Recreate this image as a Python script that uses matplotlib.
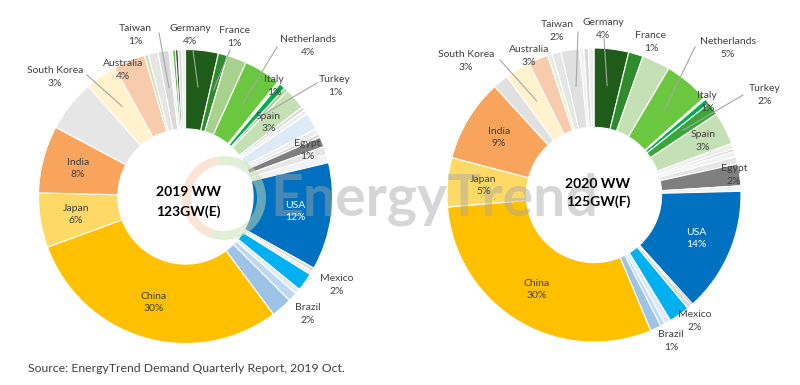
import numpy as np
import matplotlib.pyplot as plt
from matplotlib.patches import Wedge

# slices clockwise from 12 o'clock, share in %  (unnamed = small markets)
names_2019 = ['Germany', 'France', '', 'Netherlands', '', 'Italy', 'Turkey', 'Spain',
              '', '', '', '', '', 'Egypt', '', '', 'USA', '', '', 'Mexico', '', '', 'Brazil',
              'China', 'Japan', 'India', '', 'South Korea', 'Australia', '', '', 'Taiwan',
              '', '', '', '', '']
share_2019 = [3.6, 1.0, 2.15, 4.05, 0.3, 0.7, 0.4, 2.4,
              0.4, 0.5, 1.9, 0.6, 0.4, 1.1, 0.9, 0.9, 11.8, 0.4, 0.4, 2.0, 0.6, 1.0, 2.3,
              29.6, 6.0, 7.4, 5.7, 3.5, 3.5, 0.4, 1.1, 1.2,
              0.4, 0.3, 0.3, 0.4, 0.4]
colors_2019 = ['#1F5C1A', '#2E8B2E', '#A9D18E', '#6AC73F', '#E2F0D9', '#00B050', '#A9D18E', '#C5E0B4',
               '#D9D9D9', '#EDEDED', '#DDEBF7', '#EDEDED', '#D9D9D9', '#7F7F7F', '#E7E6E6', '#F2F2F2',
               '#0070C0', '#D9D9D9', '#EDEDED', '#00B0F0', '#DDEBF7', '#BDD7EE', '#9DC3E6',
               '#FFC000', '#FFD966', '#F8A45C', '#E7E6E6', '#FFF2CC', '#F8CBAD', '#C5E0B4', '#E7E6E6',
               '#D9D9D9', '#F2F2F2', '#4CB83A', '#404040', '#D9D9D9', '#EDEDED']

names_2020 = ['Germany', 'France', '', 'Netherlands', '', 'Italy', 'Turkey', 'Spain',
              '', '', '', '', 'Egypt', '', 'USA', '', '', 'Mexico', '', '', 'Brazil',
              'China', 'Japan', 'India', '', 'South Korea', 'Australia', '', '', 'Taiwan',
              '', '', '']
share_2020 = [3.8, 1.6, 3.1, 5.0, 0.2, 0.6, 1.4, 3.6,
              0.6, 0.3, 0.6, 0.8, 2.4, 0.6, 13.7, 0.2, 0.5, 2.3, 0.7, 0.5, 1.2,
              30.0, 5.4, 9.1, 1.7, 2.8, 2.2, 0.5, 1.0, 2.0,
              0.5, 0.5, 0.6]
colors_2020 = ['#1F5C1A', '#2E8B2E', '#C5E0B4', '#6AC73F', '#E2F0D9', '#00B050', '#3DA63A', '#C5E0B4',
               '#EDEDED', '#D9D9D9', '#F2F2F2', '#E7E6E6', '#7F7F7F', '#F2F2F2', '#0070C0', '#7F7F7F',
               '#D9D9D9', '#00B0F0', '#DDEBF7', '#BDD7EE', '#9DC3E6',
               '#FFC000', '#FFD966', '#F8A45C', '#E0E0E0', '#FFF2CC', '#F8CBAD', '#E2F0D9', '#E7E6E6',
               '#E0E0E0', '#F2F2F2', '#D9D9D9', '#EDEDED']

# percentages as printed on the chart
shown_2019 = {'Germany': '4%', 'France': '1%', 'Netherlands': '4%', 'Italy': '1%', 'Turkey': '1%',
              'Spain': '3%', 'Egypt': '1%', 'USA': '12%', 'Mexico': '2%', 'Brazil': '2%',
              'China': '30%', 'Japan': '6%', 'India': '8%', 'South Korea': '3%',
              'Australia': '4%', 'Taiwan': '1%'}
shown_2020 = {'Germany': '4%', 'France': '1%', 'Netherlands': '5%', 'Italy': '1%', 'Turkey': '2%',
              'Spain': '3%', 'Egypt': '2%', 'USA': '14%', 'Mexico': '2%', 'Brazil': '1%',
              'China': '30%', 'Japan': '5%', 'India': '9%', 'South Korea': '3%',
              'Australia': '3%', 'Taiwan': '2%'}

# layout (pixel coords, y down)
R = 147
donuts = [
    dict(center=(185.5, 196.5), names=names_2019, share=share_2019, colors=colors_2019,
         shown=shown_2019, title='2019 WW\n123GW(E)', title_xy=(188, 202),
         inside=['Spain', 'USA', 'China', 'Japan', 'India'],
         outside={'Taiwan': (135, 35), 'Germany': (190, 35), 'France': (234, 37),
                  'Netherlands': (308, 46), 'Italy': (274, 86), 'Turkey': (335, 86),
                  'Egypt': (307, 150), 'Mexico': (337, 285), 'Brazil': (308, 314),
                  'South Korea': (55, 77), 'Australia': (123, 70)},
         leaders={'Taiwan': (159, 33), 'Germany': (193, 50), 'France': (230, 50),
                  'Netherlands': (277, 47), 'South Korea': (87, 75), 'Turkey': (317, 83)}),
    dict(center=(594, 195), names=names_2020, share=share_2020, colors=colors_2020,
         shown=shown_2020, title='2020 WW\n125GW(F)', title_xy=(598, 193),
         inside=['USA', 'China', 'Japan', 'India'],
         outside={'Taiwan': (557, 31), 'Germany': (603, 29), 'France': (651, 42),
                  'Netherlands': (728, 48), 'Italy': (707, 102), 'Turkey': (765, 95),
                  'Spain': (703, 141), 'Egypt': (734, 175), 'Mexico': (695, 321),
                  'Brazil': (671, 341), 'South Korea': (466, 61), 'Australia': (529, 56)},
         leaders={'Taiwan': (578, 32), 'Germany': (604, 38), 'Netherlands': (695, 47),
                  'Turkey': (743, 95), 'South Korea': (500, 60)}),
]

txt = '#404040'
fig = plt.figure(figsize=(8, 3.85), dpi=100)
ax = fig.add_axes([0, 0, 1, 1])


def polar_px(c, frac, r):
    a = 2 * np.pi * frac
    return c[0] + r * np.sin(a), c[1] - r * np.cos(a)


for d in donuts:
    c = d['center']
    ax.pie(d['share'], colors=d['colors'], startangle=-90, counterclock=True,
           center=c, radius=R,
           wedgeprops=dict(width=0.54 * R, edgecolor='white', linewidth=0.8))
    cum = np.cumsum(d['share']) / np.sum(d['share'])
    mids = cum - np.array(d['share']) / np.sum(d['share']) / 2
    mid = dict(zip(d['names'], mids))
    for name in d['inside']:
        x, y = polar_px(c, mid[name], 0.755 * R)
        col = 'white' if name == 'USA' else txt
        ax.text(x, y, f"{name}\n{d['shown'][name]}", ha='center', va='center',
                fontsize=7.5, color=col, family='Lato', linespacing=1.45, zorder=6)
    for name, (x, y) in d['outside'].items():
        ax.text(x, y, f"{name}\n{d['shown'][name]}", ha='center', va='center',
                fontsize=7.5, color=txt, family='Lato', linespacing=1.45, zorder=6)
    for name, (x0, y0) in d['leaders'].items():
        x1, y1 = polar_px(c, mid[name], 0.75 * R)
        ax.plot([x0, x1], [y0, y1], color='#A6A6A6', lw=0.8, zorder=5)
    ax.text(*d['title_xy'], d['title'], ha='center', va='center', fontsize=10,
            fontweight='bold', family='Lato', color='black', linespacing=1.6, zorder=6)

# EnergyTrend watermark
logo_c = (224, 198)
ax.add_patch(Wedge(logo_c, 42, 110, 260, width=9, facecolor='#F8CBAD', alpha=0.5,
                   edgecolor='none', zorder=3))
ax.add_patch(Wedge(logo_c, 42, 260, 470, width=9, facecolor='#C5E0B4', alpha=0.5,
                   edgecolor='none', zorder=3))
ax.text(270, 215, 'EnergyTrend', ha='left', va='baseline', fontsize=41, fontweight='bold',
        family='Lato', color='#A6A6A6', alpha=0.45, zorder=4)

ax.text(28, 368, 'Source: EnergyTrend Demand Quarterly Report, 2019 Oct.', ha='left',
        va='center', fontsize=8.8, color=txt, family='Lato')

ax.set_aspect('equal')
ax.set_xlim(0, 800)
ax.set_ylim(385, 0)
ax.axis('off')
fig.savefig('out.png', dpi=100, facecolor='white')
